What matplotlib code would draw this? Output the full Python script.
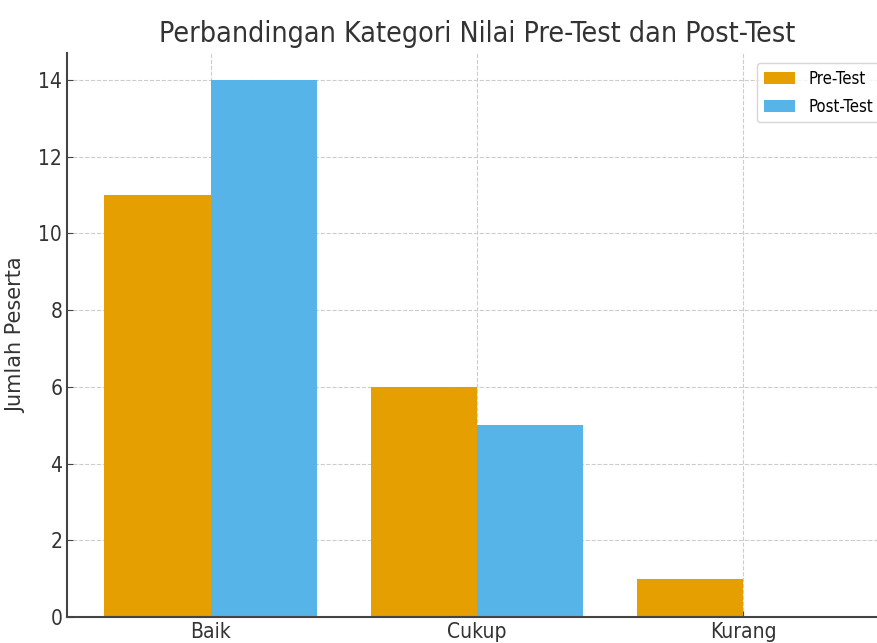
import numpy as np
import matplotlib
matplotlib.use("Agg")
import matplotlib.pyplot as plt

kategori = ["Baik", "Cukup", "Kurang"]
pre_test = [11, 6, 1]
post_test = [14, 5, 0]

plt.rcParams['font.family'] = ['DejaVu Sans']
plt.rcParams['font.stretch'] = 'condensed'

fig = plt.figure(figsize=(8.77, 6.43), dpi=100)
ax = fig.add_axes([0.0764, 0.0404, 0.935, 0.877])

x = np.arange(len(kategori))
w = 0.4
ax.bar(x - w / 2, pre_test, w, color='#E69F00', label='Pre-Test', zorder=2)
ax.bar(x + w / 2, post_test, w, color='#56B4E9', label='Post-Test', zorder=2)

ax.set_xticks(x)
ax.set_xticklabels(kategori, fontsize=15, color='#333333')
ax.set_yticks(range(0, 15, 2))
ax.tick_params(axis='y', labelsize=15, labelcolor='#333333')
ax.tick_params(direction='in', length=4, color='#444444')
ax.set_ylim(0, 14.7)

ax.grid(True, linestyle='--', color='#cccccc', linewidth=0.8, zorder=0)
ax.set_axisbelow(True)
for s in ['top', 'right']:
    ax.spines[s].set_visible(False)
for s in ['left', 'bottom']:
    ax.spines[s].set_color('#444444')
    ax.spines[s].set_linewidth(1.5)

ax.set_ylabel('Jumlah Peserta', fontsize=15, fontstretch='normal', color='#333333', labelpad=9)
ax.set_title('Perbandingan Kategori Nilai Pre-Test dan Post-Test', fontsize=20.5, color='#333333', pad=8)
ax.legend(loc='upper right', fontsize=12, handlelength=1.9, borderpad=0.4,
          labelspacing=0.6, handletextpad=0.8, borderaxespad=0,
          bbox_to_anchor=(880 / 877, 1 - 63 / 643), bbox_transform=fig.transFigure)

fig.savefig('out.png', dpi=100)
